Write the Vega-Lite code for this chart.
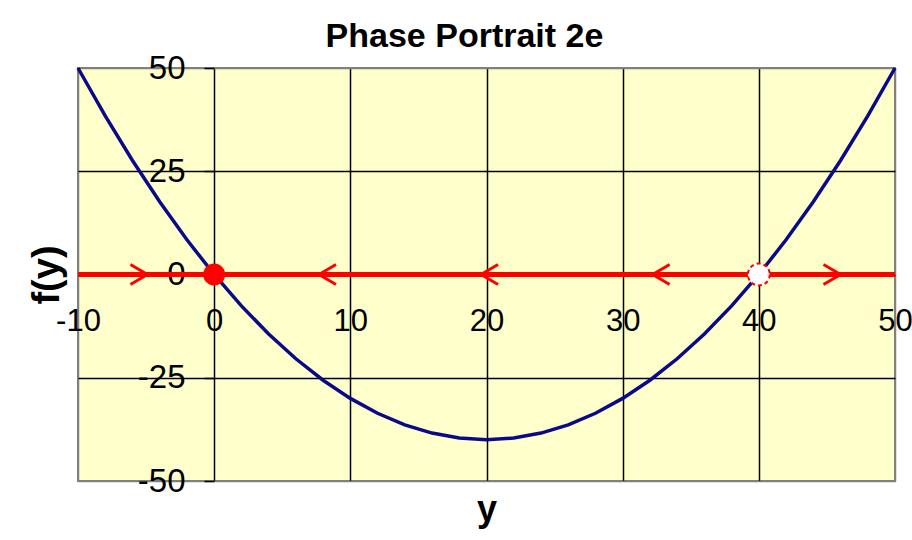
{
  "$schema": "https://vega.github.io/schema/vega-lite/v6.json",
  "width": 817,
  "height": 413,
  "autosize": "none",
  "padding": {"left": 78, "top": 68, "right": 17, "bottom": 59},
  "background": "white",
  "title": {
    "text": "Phase Portrait 2e",
    "font": "Liberation Sans",
    "fontSize": 34,
    "fontWeight": "bold",
    "color": "black",
    "anchor": "middle",
    "dx": -22,
    "offset": -2
  },
  "config": {
    "view": {"fill": "#ffffcc", "stroke": "#808080", "strokeWidth": 2},
    "axis": {
      "labelFont": "Liberation Sans",
      "titleFont": "Liberation Sans",
      "labelColor": "black",
      "titleColor": "black",
      "gridOpacity": 1,
      "gridWidth": 1.5
    }
  },
  "datasets": {
    "curve": [
      {"y": -10, "f": 50},
      {"y": -8, "f": 38.4},
      {"y": -6, "f": 27.6},
      {"y": -4, "f": 17.6},
      {"y": -2, "f": 8.4},
      {"y": 0, "f": 0},
      {"y": 2, "f": -7.6},
      {"y": 4, "f": -14.4},
      {"y": 6, "f": -20.4},
      {"y": 8, "f": -25.6},
      {"y": 10, "f": -30},
      {"y": 12, "f": -33.6},
      {"y": 14, "f": -36.4},
      {"y": 16, "f": -38.4},
      {"y": 18, "f": -39.6},
      {"y": 20, "f": -40},
      {"y": 22, "f": -39.6},
      {"y": 24, "f": -38.4},
      {"y": 26, "f": -36.4},
      {"y": 28, "f": -33.6},
      {"y": 30, "f": -30},
      {"y": 32, "f": -25.6},
      {"y": 34, "f": -20.4},
      {"y": 36, "f": -14.4},
      {"y": 38, "f": -7.6},
      {"y": 40, "f": 0},
      {"y": 42, "f": 8.4},
      {"y": 44, "f": 17.6},
      {"y": 46, "f": 27.6},
      {"y": 48, "f": 38.4},
      {"y": 50, "f": 50}
    ],
    "phaseLine": [
      {"from": -10, "to": 50, "level": 0}
    ],
    "arrows": [
      {"y": -4.9, "f": 0, "dir": "right"},
      {"y": 7.7, "f": 0, "dir": "left"},
      {"y": 19.6, "f": 0, "dir": "left"},
      {"y": 32.2, "f": 0, "dir": "left"},
      {"y": 46.0, "f": 0, "dir": "right"}
    ],
    "equilibria": [
      {"y": 0, "f": 0, "stability": "stable"},
      {"y": 40, "f": 0, "stability": "unstable"}
    ]
  },
  "layer": [
    {
      "data": {"name": "curve"},
      "mark": {"type": "line", "color": "#0a0a88", "strokeWidth": 3.5},
      "encoding": {
        "x": {
          "field": "y",
          "type": "quantitative",
          "scale": {"domain": [-10, 50], "nice": false, "zero": false},
          "axis": {
            "title": "y",
            "values": [-10, 0, 10, 20, 30, 40, 50],
            "labelExpr": "datum.value + ''",
            "offset": -206.5,
            "ticks": false,
            "domain": false,
            "labelPadding": 32,
            "labelFontSize": 31,
            "labelFlush": false,
            "gridColor": {"condition": {"test": "datum.value == -10 || datum.value == 50", "value": "#808080"}, "value": "black"},
            "titleFontSize": 36,
            "titleFontWeight": "bold",
            "titleBaseline": "alphabetic",
            "titleY": 246
          }
        },
        "y": {
          "field": "f",
          "type": "quantitative",
          "scale": {"domain": [-50, 50], "nice": false},
          "axis": {
            "title": "f(y)",
            "values": [-50, -25, 0, 25, 50],
            "labelExpr": "datum.value + ''",
            "offset": -136,
            "tickSize": 10,
            "tickColor": "black",
            "tickWidth": 1.5,
            "domain": false,
            "labelPadding": 19,
            "labelFontSize": 33,
            "labelFlush": false,
            "gridColor": {"condition": {"test": "abs(datum.value) == 50", "value": "#808080"}, "value": "black"},
            "titleFontSize": 38,
            "titleFontWeight": "bold",
            "titleAngle": -90,
            "titleBaseline": "middle",
            "titleX": -167
          }
        }
      }
    },
    {
      "data": {"name": "phaseLine"},
      "mark": {"type": "rule", "color": "#ff0000", "strokeWidth": 5},
      "encoding": {
        "x": {"field": "from", "type": "quantitative"},
        "x2": {"field": "to"},
        "y": {"field": "level", "type": "quantitative"}
      }
    },
    {
      "data": {"name": "arrows"},
      "mark": {"type": "point", "filled": false, "stroke": "#ff0000", "strokeWidth": 3, "size": 400, "opacity": 1},
      "encoding": {
        "x": {"field": "y", "type": "quantitative"},
        "y": {"field": "f", "type": "quantitative"},
        "shape": {
          "field": "dir",
          "type": "nominal",
          "scale": {"domain": ["right", "left"], "range": ["M-1.7,-1L0,0L-1.7,1", "M1.7,-1L0,0L1.7,1"]},
          "legend": null
        }
      }
    },
    {
      "data": {"name": "equilibria"},
      "mark": {"type": "point", "shape": "circle", "filled": true, "stroke": "#ff0000", "strokeWidth": 2, "opacity": 1},
      "encoding": {
        "x": {"field": "y", "type": "quantitative"},
        "y": {"field": "f", "type": "quantitative"},
        "fill": {
          "field": "stability",
          "type": "nominal",
          "scale": {"domain": ["stable", "unstable"], "range": ["#ff0000", "#ffffff"]},
          "legend": null
        },
        "size": {
          "field": "stability",
          "type": "nominal",
          "scale": {"domain": ["stable", "unstable"], "range": [400, 480]},
          "legend": null
        },
        "strokeDash": {
          "field": "stability",
          "type": "nominal",
          "scale": {"domain": ["stable", "unstable"], "range": [[1, 0], [4, 3]]},
          "legend": null
        }
      }
    }
  ]
}
